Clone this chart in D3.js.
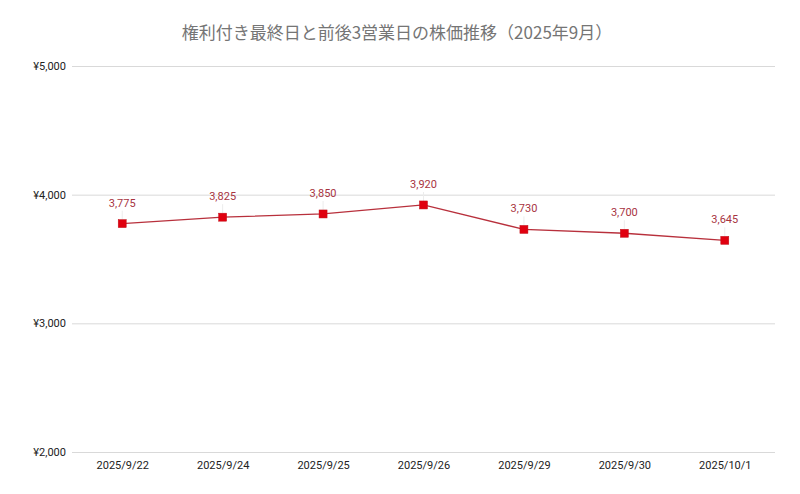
<!DOCTYPE html>
<html><head><meta charset="utf-8">
<script src="https://cdn.jsdelivr.net/npm/d3@7"></script>
<style>
body{margin:0;background:#fff;}
svg{display:block;font-family:Roboto,"Noto Sans CJK JP",sans-serif;}
</style></head>
<body><svg id="c" width="800" height="494"></svg>
<script>
const title = "権利付き最終日と前後3営業日の株価推移（2025年9月）";
const dates = ["2025/9/22","2025/9/24","2025/9/25","2025/9/26","2025/9/29","2025/9/30","2025/10/1"];
const prices = [3775,3825,3850,3920,3730,3700,3645];
const yTicks = [2000,3000,4000,5000];

const svg = d3.select("#c");
const m = {left:72, right:775, top:66, bottom:452};
const x = d3.scalePoint().domain(dates).range([m.left, m.right]).padding(0.5);
const y = d3.scaleLinear().domain([2000,5000]).range([m.bottom, m.top]);

svg.append("rect").attr("width",800).attr("height",494).attr("fill","#fff");

svg.append("text").attr("x",397).attr("y",39).attr("text-anchor","middle")
  .attr("font-family","'Noto Sans CJK JP',sans-serif").attr("font-size",17)
  .attr("fill","#757575").text(title);

// grid + y labels
const yAxis = d3.axisLeft(y).tickValues(yTicks).tickSize(-(m.right-m.left))
  .tickFormat(d => "¥" + d3.format(",")(d)).tickPadding(6);
const gy = svg.append("g").attr("transform",`translate(${m.left},0)`).call(yAxis);
gy.select(".domain").remove();
gy.selectAll(".tick line").attr("stroke","#d9d9d9").attr("stroke-width",1);
gy.selectAll(".tick text").attr("font-size",11).attr("fill","#222").attr("font-family","Roboto,sans-serif");

// x labels
const xAxis = d3.axisBottom(x).tickSize(0).tickPadding(9);
const gx = svg.append("g").attr("transform",`translate(0,${m.bottom})`).call(xAxis);
gx.select(".domain").remove();
gx.selectAll(".tick text").attr("font-size",11).attr("fill","#222").attr("font-family","Roboto,sans-serif");

const data = dates.map((d,i)=>({d, v:prices[i]}));

// faint leader lines
svg.selectAll("line.lead").data(data).enter().append("line").attr("class","lead")
  .attr("x1",p=>x(p.d)).attr("x2",p=>x(p.d))
  .attr("y1",p=>y(p.v)-13).attr("y2",p=>y(p.v)-4)
  .attr("stroke","#ececec").attr("stroke-width",1);

svg.append("path").datum(data)
  .attr("fill","none").attr("stroke","#b8303c").attr("stroke-width",1.3)
  .attr("d", d3.line().x(p=>x(p.d)).y(p=>y(p.v)));

svg.selectAll("rect.pt").data(data).enter().append("rect").attr("class","pt")
  .attr("x",p=>x(p.d)-4).attr("y",p=>y(p.v)-4).attr("width",8).attr("height",8)
  .attr("fill","#e0000f").attr("stroke","#c0101a").attr("stroke-width",0.5);

svg.selectAll("text.lbl").data(data).enter().append("text").attr("class","lbl")
  .attr("x",p=>x(p.d)).attr("y",p=>y(p.v)-17).attr("text-anchor","middle")
  .attr("font-size",11).attr("fill","#a8343f").attr("font-family","Roboto,sans-serif")
  .text(p=>d3.format(",")(p.v));
</script></body></html>
